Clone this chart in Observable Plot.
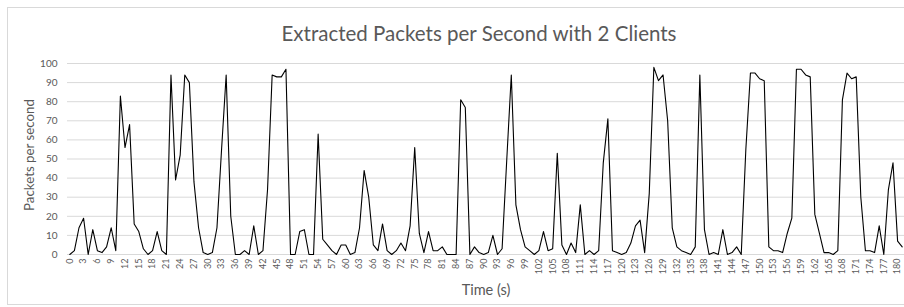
<!DOCTYPE html>
<html>
<head>
<meta charset="utf-8">
<script src="https://cdn.jsdelivr.net/npm/d3@7"></script>
<script src="https://cdn.jsdelivr.net/npm/@observablehq/plot@0.6"></script>
<style>
  html, body { margin: 0; padding: 0; background: #fff; }
  #wrap { position: relative; width: 904px; height: 307px; overflow: hidden; font-family: Lato, "Liberation Sans", sans-serif; }
  #border { position: absolute; left: 7px; top: 7px; width: 1000px; height: 298px; border: 1px solid #d9d9d9; box-sizing: border-box; }
  #title { position: absolute; left: 479px; top: 33px; transform: translate(-50%, -50%); white-space: nowrap; font-size: 20.5px; color: #595959; }
  #ylab { position: absolute; left: 29px; top: 155px; transform: translate(-50%, -50%) rotate(-90deg); white-space: nowrap; font-size: 13.3px; color: #595959; }
  #xlab { position: absolute; left: 486px; top: 289px; transform: translate(-50%, -50%); white-space: nowrap; font-size: 14.5px; color: #595959; }
  #chart { position: absolute; left: 0; top: 0; }
</style>
</head>
<body>
<div id="wrap">
  <div id="border"></div>
  <div id="chart"></div>
  <div id="title">Extracted Packets per Second with 2 Clients</div>
  <div id="ylab">Packets per second</div>
  <div id="xlab">Time (s)</div>
</div>
<script>
// Packets per second, one value per second (t = 0..181)
const packets = [
  0, 2, 14, 19, 0, 13, 2, 1, 4, 14,
  2, 83, 56, 68, 16, 12, 3, 0, 2, 12,
  2, 0, 94, 39, 52, 94, 90, 38, 14, 1,
  0, 1, 14, 55, 94, 20, 0, 0, 2, 0,
  15, 0, 2, 34, 94, 93, 93, 97, 0, 0,
  12, 13, 0, 0, 63, 8, 5, 2, 0, 5,
  5, 0, 1, 14, 44, 30, 5, 2, 16, 2,
  0, 2, 6, 2, 15, 56, 11, 1, 12, 2,
  2, 4, 0, 0, 0, 81, 77, 0, 4, 1,
  0, 1, 10, 0, 3, 49, 94, 26, 13, 4,
  2, 0, 2, 12, 2, 3, 53, 5, 0, 6,
  1, 26, 0, 2, 0, 2, 48, 71, 2, 1,
  0, 1, 6, 15, 18, 1, 32, 98, 91, 94,
  70, 14, 4, 2, 1, 0, 4, 94, 13, 0,
  1, 0, 13, 0, 1, 4, 0, 55, 95, 95,
  92, 91, 4, 2, 2, 1, 11, 19, 97, 97,
  94, 93, 21, 11, 1, 1, 0, 2, 81, 95,
  92, 93, 30, 2, 2, 1, 15, 0, 34, 48,
  7, 4
];
const seconds = packets.map((_, i) => i);
const xTicks = d3.range(0, 181, 3);
const yTicks = d3.range(0, 101, 10);

const data = seconds.map((t, i) => ({t, v: packets[i]}));

const chart = Plot.plot({
  width: 904,
  height: 307,
  marginLeft: 67,
  marginRight: 0,
  marginTop: 63,
  marginBottom: 53,
  style: {fontFamily: "Lato, 'Liberation Sans', sans-serif", color: "#595959", background: "transparent", overflow: "visible"},
  x: {domain: [-0.5, 181.5]},
  y: {domain: [0, 100]},
  marks: [
    Plot.gridY(yTicks, {stroke: "#d9d9d9", strokeOpacity: 1, strokeWidth: 1}),
    Plot.axisY(yTicks, {tickSize: 0, tickPadding: 10, fontSize: 10, fill: "#595959", label: null}),
    Plot.axisX(xTicks, {tickSize: 0, tickPadding: 4, tickRotate: -90, fontSize: 9, fill: "#595959", label: null}),
    Plot.line(data, {x: "t", y: "v", stroke: "#000", strokeWidth: 1.1})
  ]
});
document.getElementById("chart").appendChild(chart);
</script>
</body>
</html>
